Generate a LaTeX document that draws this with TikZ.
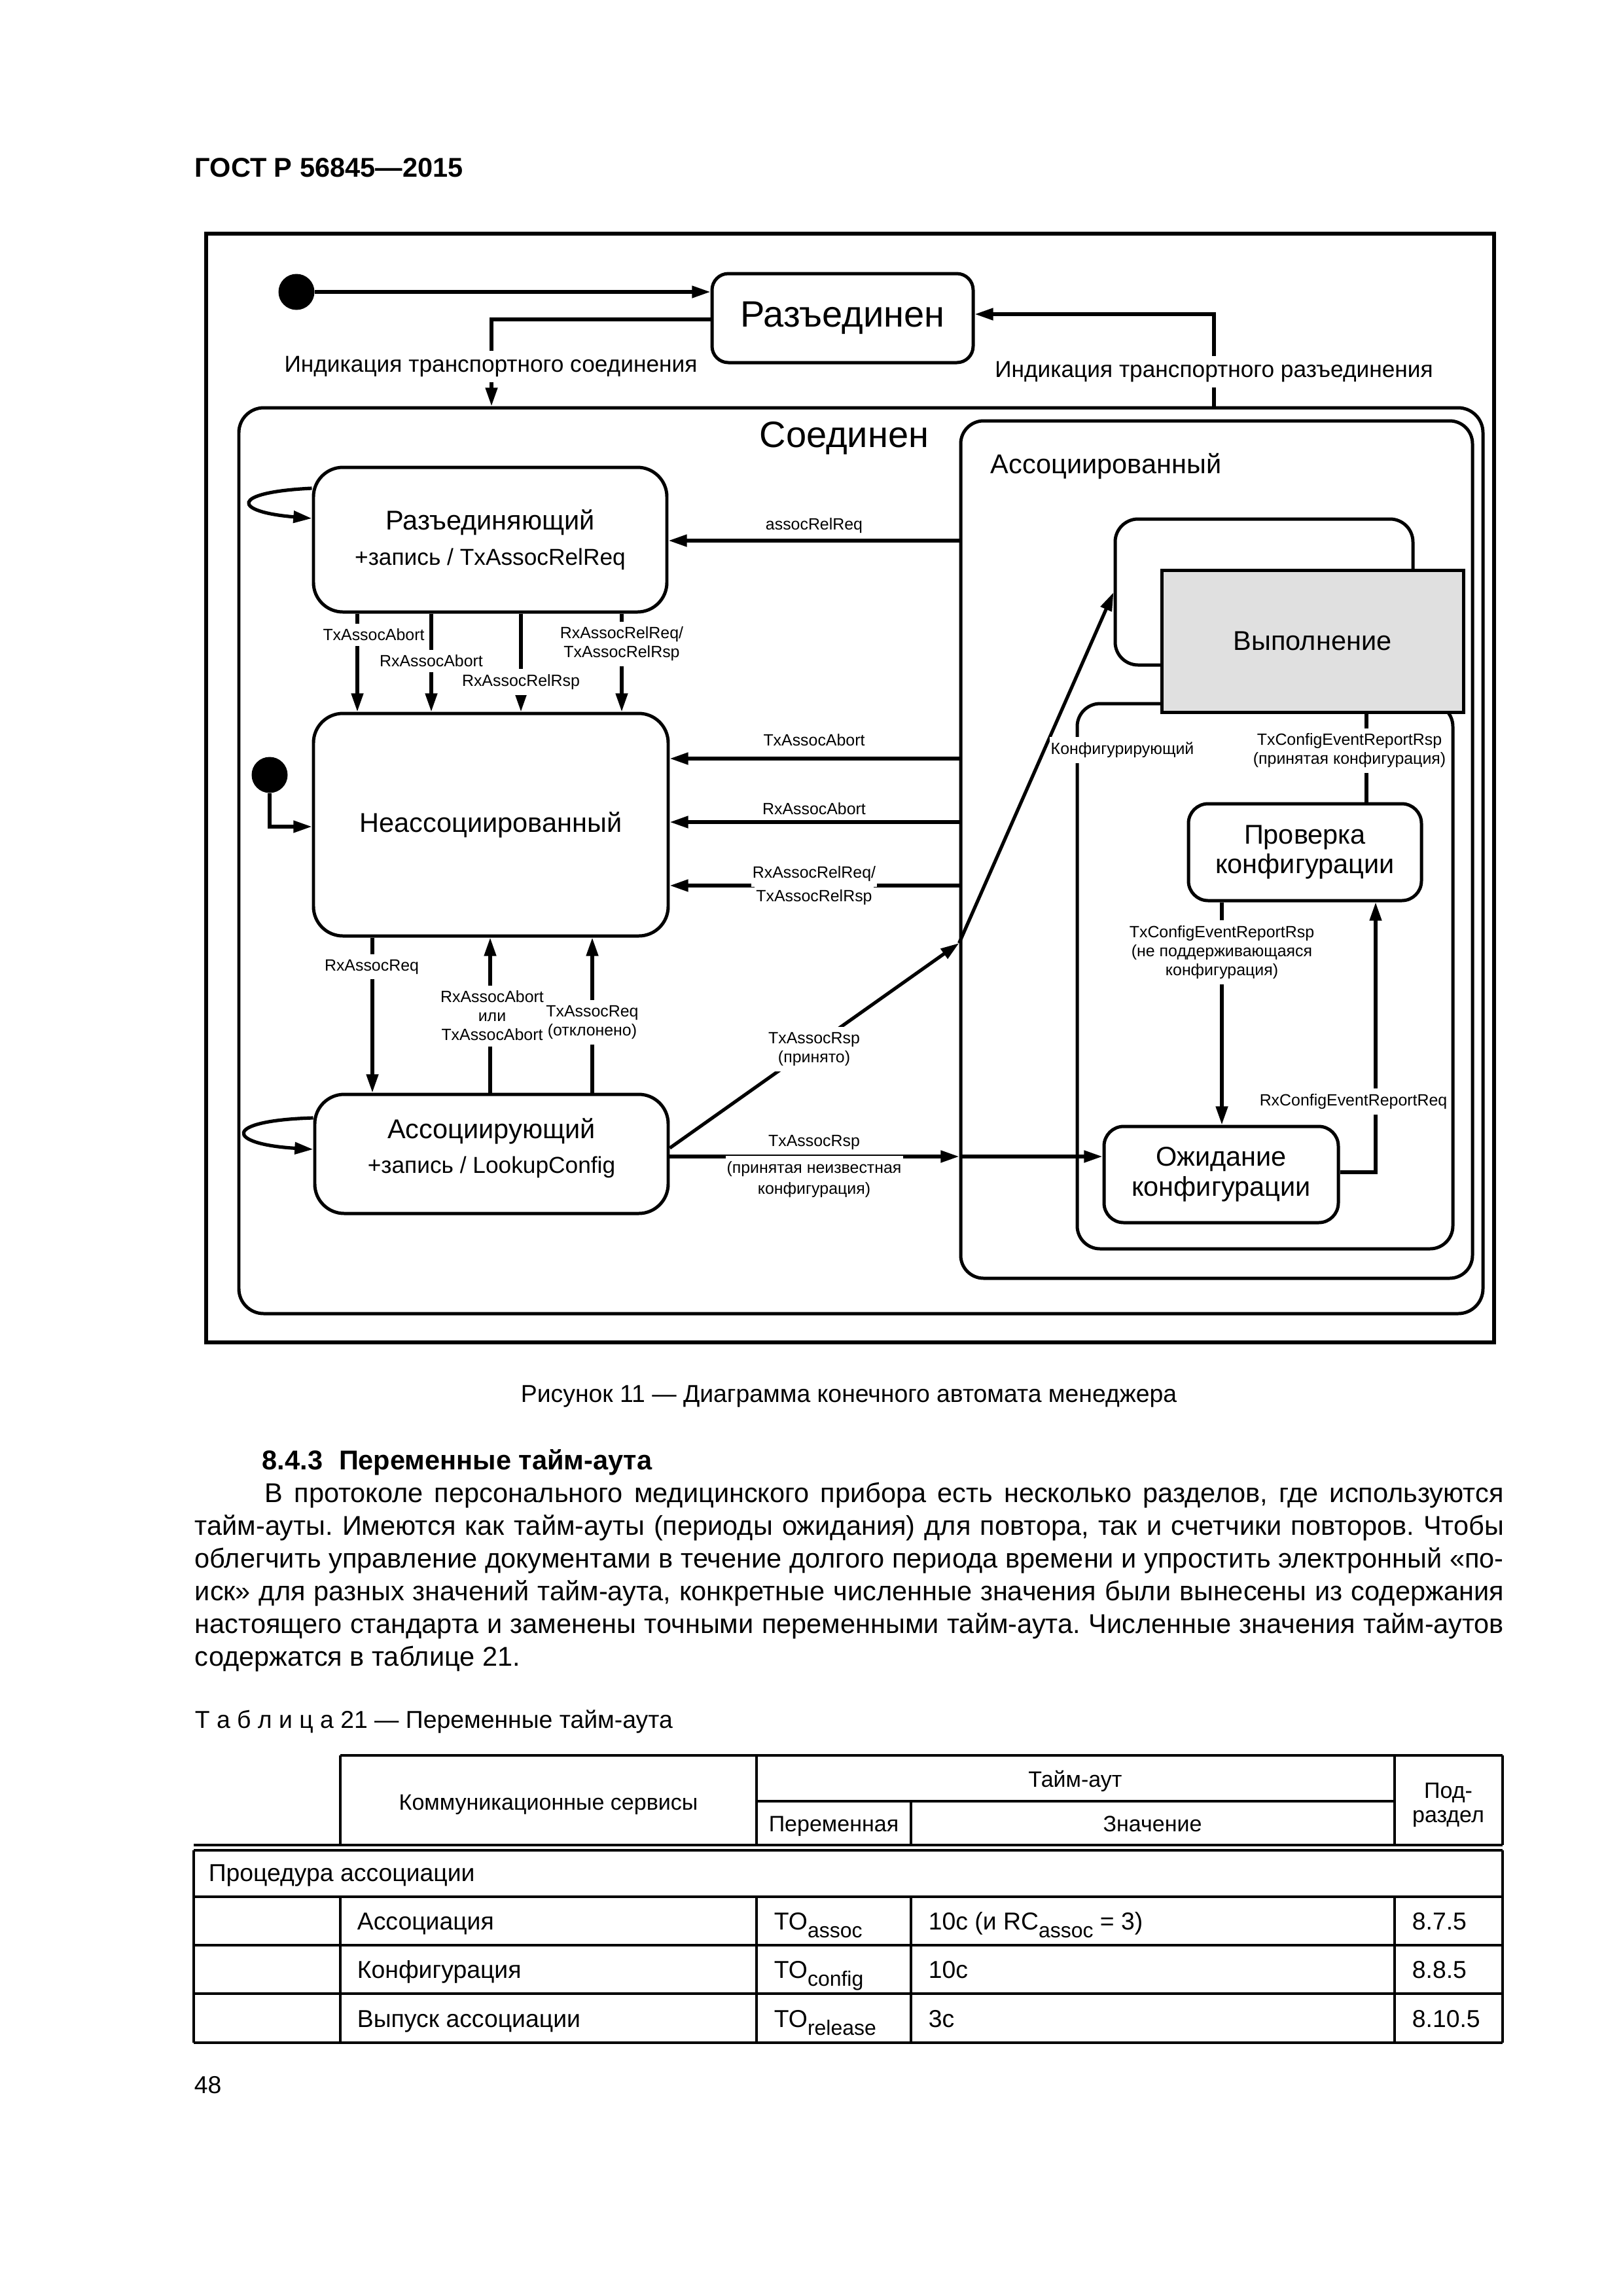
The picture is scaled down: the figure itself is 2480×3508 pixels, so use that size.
\documentclass[tikz,border=0pt]{standalone}
\usepackage{fontspec}
\setmainfont{Liberation Sans}
\usetikzlibrary{arrows.meta}
\frenchspacing

\newlength\pxu
\setlength\pxu{0.24093pt}
\newcommand\fbody{\fontsize{9}{12}\selectfont}
\newcommand\fpar{\fontsize{10}{12}\selectfont}
\newcommand\fbold{\bfseries\fontsize{10}{12}\selectfont}
\newcommand\fbig{\fontsize{13.5}{16}\selectfont}
\newcommand\fstate{\fontsize{10}{13}\selectfont}
\newcommand\fstatex{\fontsize{10}{11}\selectfont}
\newcommand\fsub{\fontsize{8.5}{11}\selectfont}
\newcommand\flbl{\fontsize{6}{7}\selectfont}
\newcommand\ftrans{\fontsize{8.5}{10}\selectfont}
\newcommand\fthead{\fontsize{8.2}{10}\selectfont}
\newcommand\tosub[1]{\raisebox{-2.9pt}{\fontsize{7.7}{9}\selectfont #1}}

\tikzset{
  state/.style={draw, line width=1.2pt, rounded corners=45\pxu, align=center, font=\fstate, inner sep=0pt},
  cont/.style={draw, line width=1.2pt, rounded corners=35\pxu, inner sep=0pt},
  init/.style={circle, fill=black, minimum size=55\pxu, inner sep=0pt},
  tr/.style={line width=1.25pt, -{Triangle[length=6.8pt,width=4.3pt]}},
  lbl/.style={fill=white, inner xsep=0.5pt, inner ysep=2pt, font=\flbl, align=center},
  txt/.style={anchor=base west, inner sep=0pt},
  tline/.style={line width=0.75pt}
}

\begin{document}
\begin{tikzpicture}[x=0.24093pt,y=-0.24093pt,font=\fbody]
        \useasboundingbox[fill=white] (0,0) rectangle (2480,3508);

        \node[txt, font=\fbold] (gost) at (297,270) {ГОСТ Р 56845—2015};

        \draw[line width=1.45pt] (315,357) rectangle (2283,2051);

        \node[init] (dot1) at (453,446) {};
        \node[state, rounded corners=25\pxu, font=\fbig, minimum width=399\pxu, minimum height=136\pxu] (razd) at (1287.5,486) {Разъединен};

        \node[cont, rounded corners=38\pxu, minimum width=1901\pxu, minimum height=1384\pxu] (soed) at (1315.5,1315) {};
        \node[anchor=base, font=\fbig] (soedlbl) at (1290,683) {Соединен};

        \node[cont, minimum width=782\pxu, minimum height=1310\pxu] (assd) at (1859,1298) {};
        \node[txt, font=\fstate] (assdlbl) at (1513,723) {Ассоциированный};

        \node[cont, minimum width=455\pxu, minimum height=223\pxu] (back) at (1931.5,904.5) {};
        \node[cont, minimum width=574\pxu, minimum height=833\pxu] (konf) at (1933,1491.5) {};
        \node[draw, line width=1.2pt, fill=black!12, font=\fstate, minimum width=461\pxu, minimum height=217\pxu] (vyp) at (2005.5,979.5) {Выполнение};
        \node[state, rounded corners=30\pxu, font=\fstatex, minimum width=356\pxu, minimum height=148\pxu] (prov) at (1994,1302) {Проверка\\конфигурации};
        \node[state, rounded corners=30\pxu, font=\fstatex, minimum width=358\pxu, minimum height=147\pxu] (ozhid) at (1866,1794.5) {Ожидание\\конфигурации};

        \node[state, minimum width=540\pxu, minimum height=221\pxu] (razi) at (749,824.5) {Разъединяющий\\{\fsub +запись / TxAssocRelReq}};
        \node[state, minimum width=542\pxu, minimum height=340\pxu] (neass) at (750,1260) {Неассоциированный};
        \node[state, text depth=6pt, minimum width=540\pxu, minimum height=182\pxu] (assg) at (751,1763) {Ассоциирующий\\{\fsub +запись / LookupConfig}};
        \node[init] (dot2) at (412,1184) {};

        \draw[tr] (dot1) -- (razd.west |- dot1);
        \draw[tr] (razd.west |- 0,488) -| (751,0 |- soed.north);
        \node[lbl, font=\ftrans] (tcon) at (750,560) {Индикация транспортного соединения};
        \draw[tr] (1855,0 |- soed.north) |- (razd.east |- 0,480);
        \node[lbl, font=\ftrans] (tdis) at (1855,568) {Индикация транспортного разъединения};

        \draw[tr] (razi.west |- 0,746) .. controls (350,752) and (355,782) .. (razi.west |- 0,792);
        \draw[tr] (assg.west |- 0,1708) .. controls (338,1712) and (345,1748) .. (assg.west |- 0,1756);

        \draw[tr] (assd.west |- 0,826) -- (razi.east |- 0,826);
        \node[lbl] (lrel) at (1244,803) {assocRelReq};

        \foreach \xx in {546,659,796,950}
          \draw[tr] (\xx,0 |- razi.south) -- (\xx,0 |- neass.north);
        \node[lbl] (ldn1) at (571,970) {TxAssocAbort};
        \node[lbl] (ldn2) at (659,1010) {RxAssocAbort};
        \node[lbl] (ldn3) at (796,1042) {RxAssocRelRsp};
        \node[lbl] (ldn4) at (950,984) {RxAssocRelReq/\\TxAssocRelRsp};

        \foreach \yy in {1159,1256,1353}
          \draw[tr] (assd.west |- 0,\yy) -- (neass.east |- 0,\yy);
        \node[lbl] (lh1) at (1244,1131) {TxAssocAbort};
        \node[lbl] (lh2) at (1244,1236) {RxAssocAbort};
        \node[lbl] (lh3) at (1244,1335) {RxAssocRelReq/};
        \node[lbl] (lh4) at (1244,1371) {TxAssocRelRsp};

        \draw[tr] (dot2) |- (neass.west |- 0,1263);

        \draw[tr] (569,0 |- neass.south) -- (569,0 |- assg.north);
        \node[lbl] (lup1) at (568,1477) {RxAssocReq};
        \draw[tr] (749,0 |- assg.north) -- (749,0 |- neass.south);
        \node[lbl] (lup2) at (752,1552) {RxAssocAbort\\или\\TxAssocAbort};
        \draw[tr] (905,0 |- assg.north) -- (905,0 |- neass.south);
        \node[lbl] (lup3) at (905,1562) {TxAssocReq\\(отклонено)};

        \coordinate (ain1) at (assd.west |- 0,1441);
        \draw[tr] (assg.east |- 0,1754) -- (ain1);
        \draw[tr] (ain1) -- (back.west |- 0,905);
        \node[lbl] (lacc) at (1244,1603) {TxAssocRsp\\(принято)};

        \coordinate (ain2) at (assd.west |- 0,1767);
        \draw[tr] (assg.east |- ain2) -- (ain2);
        \draw[tr] (ain2) -- (ozhid.west |- ain2);
        \node[lbl] (lunk1) at (1244,1745) {TxAssocRsp};
        \node[lbl] (lunk2) at (1244,1802) {(принятая неизвестная\\[0.7pt]конфигурация)};

        \draw[line width=1.25pt] (2088,0 |- vyp.south) -- (2088,0 |- prov.north);
        \node[lbl] (lok) at (2062,1147) {TxConfigEventReportRsp\\(принятая конфигурация)};
        \draw[tr] (1867,0 |- prov.south) -- (1867,0 |- ozhid.north);
        \node[lbl] (lbad) at (1867,1455) {TxConfigEventReportRsp\\(не поддерживающаяся\\конфигурация)};
        \draw[tr] (ozhid.east |- 0,1791) -| (2102,0 |- prov.south);
        \node[lbl] (lreq) at (2068,1683) {RxConfigEventReportReq};
        \node[lbl] (konflbl) at (1715,1146) {Конфигурирующий};

        \node[anchor=base] (fig) at (1297,2142) {Рисунок 11 — Диаграмма конечного автомата менеджера};

        \node[txt, font=\fbold] (sec) at (400,2245) {8.4.3\hspace{0.6em}Переменные тайм-аута};
        \node[txt, font=\fpar] (p1) at (404,2295) {\makebox[1893\pxu][s]{В протоколе персонального медицинского прибора есть несколько разделов, где используются}};
        \node[txt, font=\fpar] (p2) at (297,2345) {\makebox[2000\pxu][s]{тайм-ауты. Имеются как тайм-ауты (периоды ожидания) для повтора, так и счетчики повторов. Чтобы}};
        \node[txt, font=\fpar] (p3) at (297,2395) {\makebox[2000\pxu][s]{облегчить управление документами в течение долгого периода времени и упростить электронный «по-}};
        \node[txt, font=\fpar] (p4) at (297,2445) {\makebox[2000\pxu][s]{иск» для разных значений тайм-аута, конкретные численные значения были вынесены из содержания}};
        \node[txt, font=\fpar] (p5) at (297,2495) {\makebox[2000\pxu][s]{настоящего стандарта и заменены точными переменными тайм-аута. Численные значения тайм-аутов}};
        \node[txt, font=\fpar] (p6) at (297,2545) {содержатся в таблице 21.};

        \node[txt] (tcap) at (297,2640) {Т а б л и ц а 21 — Переменные тайм-аута};

        \draw[tline] (520,2682) -- (2296,2682);
        \draw[tline] (1156,2752) -- (2131,2752);
        \draw[tline] (296,2819) -- (2296,2819);
        \draw[tline] (296,2827) -- (2296,2827);
        \foreach \xx in {520,1156,2131,2296}
          \draw[tline] (\xx,2682) -- (\xx,2819);
        \draw[tline] (1392,2752) -- (1392,2819);
        \foreach \yy in {2898,2972,3046,3121}
          \draw[tline] (296,\yy) -- (2296,\yy);
        \foreach \xx in {296,2296}
          \draw[tline] (\xx,2827) -- (\xx,3121);
        \foreach \xx in {520,1156,1392,2131}
          \draw[tline] (\xx,2898) -- (\xx,3121);

        \node[anchor=base, font=\fthead] (hsrv) at (838,2765) {Коммуникационные сервисы};
        \node[anchor=base, font=\fthead] (hto) at (1643,2730) {Тайм-аут};
        \node[anchor=base, font=\fthead] (hvar) at (1274,2798) {Переменная};
        \node[anchor=base, font=\fthead] (hval) at (1761,2798) {Значение};
        \node[anchor=base, font=\fthead] (hsec1) at (2213,2747) {Под-};
        \node[anchor=base, font=\fthead] (hsec2) at (2213,2784) {раздел};

        \node[txt] (r0) at (318,2874) {Процедура ассоциации};
        \node[txt] (r1a) at (545,2948) {Ассоциация};
        \node[txt] (r1b) at (1182,2948) {TO\tosub{assoc}};
        \node[txt] (r1c) at (1418,2948) {10с (и RC\tosub{assoc} = 3)};
        \node[txt] (r1d) at (2157,2948) {8.7.5};
        \node[txt] (r2a) at (545,3022) {Конфигурация};
        \node[txt] (r2b) at (1182,3022) {TO\tosub{config}};
        \node[txt] (r2c) at (1418,3022) {10с};
        \node[txt] (r2d) at (2157,3022) {8.8.5};
        \node[txt] (r3a) at (545,3097) {Выпуск ассоциации};
        \node[txt] (r3b) at (1182,3097) {TO\tosub{release}};
        \node[txt] (r3c) at (1418,3097) {3с};
        \node[txt] (r3d) at (2157,3097) {8.10.5};

        \node[txt] (pg) at (296,3198) {48};
      \end{tikzpicture}
\end{document}
